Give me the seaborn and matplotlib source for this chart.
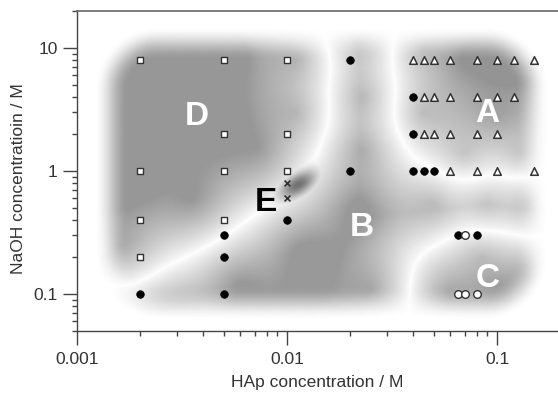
import numpy as np
import pandas as pd
import seaborn as sns
import matplotlib.pyplot as plt
from matplotlib.ticker import LogLocator, NullFormatter

# measured points (HAp / M, NaOH / M)
square_x = [0.002, 0.005, 0.01, 0.005, 0.01, 0.002, 0.005, 0.01, 0.002, 0.005, 0.002]
square_y = [8, 8, 8, 2, 2, 1, 1, 1, 0.4, 0.4, 0.2]
dot_x = [0.002, 0.005, 0.005, 0.005, 0.01, 0.02, 0.02, 0.04, 0.04, 0.04, 0.045, 0.05, 0.065, 0.08]
dot_y = [0.1, 0.3, 0.2, 0.1, 0.4, 8, 1, 4, 2, 1, 1, 1, 0.3, 0.3]
tri_x = [0.04, 0.045, 0.05, 0.06, 0.08, 0.1, 0.12, 0.15,
         0.045, 0.05, 0.06, 0.08, 0.1, 0.12,
         0.045, 0.05, 0.06, 0.08, 0.1,
         0.06, 0.08, 0.1, 0.15]
tri_y = [8, 8, 8, 8, 8, 8, 8, 8,
         4, 4, 4, 4, 4, 4,
         2, 2, 2, 2, 2,
         1, 1, 1, 1]
ring_x = [0.07, 0.065, 0.07, 0.08]
ring_y = [0.3, 0.1, 0.1, 0.1]
cross_x = [0.01, 0.01]
cross_y = [0.8, 0.6]

# region labels
region_names = ['A', 'B', 'C', 'D', 'E']
region_x = [0.09, 0.0226, 0.09, 0.0037, 0.0079]
region_y = [2.95, 0.35, 0.134, 2.8, 0.55]
region_color = ['white', 'white', 'white', 'white', 'black']

# rough anchor points of each shaded phase region
shade_A = [(0.045, 10), (0.07, 8), (0.11, 8), (0.045, 3), (0.1, 2.8), (0.13, 1.4), (0.07, 1.4)]
shade_B = [(0.023, 12), (0.023, 4), (0.023, 1.5), (0.022, 0.5), (0.012, 0.22),
           (0.006, 0.12), (0.0028, 0.065), (0.0014, 0.05), (0.025, 0.11),
           (0.05, 0.55), (0.09, 0.55), (0.14, 0.55)]
shade_C = [(0.06, 0.1), (0.1, 0.12), (0.14, 0.14), (0.085, 0.2)]
shade_D = [(0.002, 8), (0.005, 8), (0.011, 8), (0.002, 2.5), (0.005, 2.5),
           (0.011, 3), (0.0017, 0.8), (0.0016, 0.25), (0.0035, 0.6), (0.0072, 1.6)]
shade_depth = [0.42, 0.40, 0.45, 0.41]
# small dark E spot: centre, depth
spot_E = (0.0113, 0.78)
spot_depth = 0.55

sns.set_style('ticks')
plt.rcParams['font.family'] = ['Liberation Sans', 'DejaVu Sans']

fig = plt.figure(figsize=(5.58, 3.96), dpi=100)
ax = fig.add_axes([77 / 558, 1 - 331 / 396, 481 / 558, 320 / 396])

# grey background map
k = 0.583
gx = np.linspace(-3, np.log10(0.195), 520)
gy = np.linspace(np.log10(0.05), np.log10(20), 360)
U, V = np.meshgrid(gx, gy)
Vs = V * k
tau = 0.09
dists = []
for pts in [shade_A, shade_B, shade_C, shade_D]:
    pu = np.log10([p[0] for p in pts])
    pv = np.log10([p[1] for p in pts]) * k
    r = np.sqrt((U[..., None] - pu) ** 2 + (Vs[..., None] - pv) ** 2)
    dists.append(-tau * np.log(np.exp(-r / tau).sum(-1)))
dists = np.stack(dists)
order = np.sort(dists, axis=0)
margin = order[1] - order[0]
owner = np.argmin(dists, axis=0)
f = np.clip(margin / 0.42, 0, 1) ** 0.85

# rounded rectangle envelope
lo_u, hi_u = np.log10(0.00122), np.log10(0.175)
cu, hu = (lo_u + hi_u) / 2, (hi_u - lo_u) / 2
top, bot = np.log10(15) * k, np.log10(0.062) * k
cv, hv = (top + bot) / 2, (top - bot) / 2
rad = 0.3
qx = np.maximum(np.abs(U - cu) - hu + rad, 0)
qy = np.maximum(np.abs(Vs - cv) - hv + rad, 0)
sd = np.sqrt(qx ** 2 + qy ** 2) - rad
env = np.clip(-sd / 0.16, 0, 1)
env = env * env * (3 - 2 * env)

# elongated E spot, tilted along the D/B border
du = U - np.log10(spot_E[0])
dv = Vs - np.log10(spot_E[1]) * k
ang = np.deg2rad(32)
along = du * np.cos(ang) + dv * np.sin(ang)
across = -du * np.sin(ang) + dv * np.cos(ang)
spot = spot_depth * np.exp(-0.5 * ((along / 0.07) ** 2 + (across / 0.035) ** 2))

dark = np.maximum(np.array(shade_depth)[owner] * f * env, spot)
gray = 1 - dark
ax.pcolormesh(10 ** gx, 10 ** gy, gray, cmap='gray', vmin=0, vmax=1,
              shading='gouraud', rasterized=True, zorder=0)

sq = pd.DataFrame({'x': square_x, 'y': square_y})
dt = pd.DataFrame({'x': dot_x, 'y': dot_y})
tr = pd.DataFrame({'x': tri_x, 'y': tri_y})
rg = pd.DataFrame({'x': ring_x, 'y': ring_y})
cr = pd.DataFrame({'x': cross_x, 'y': cross_y})

sns.scatterplot(data=sq, x='x', y='y', ax=ax, marker='s', s=20, facecolor='white',
                edgecolor='#333333', linewidth=1, zorder=3)
sns.scatterplot(data=dt, x='x', y='y', ax=ax, marker='o', s=30, color='black',
                edgecolor='black', linewidth=0.5, zorder=3)
sns.scatterplot(data=tr, x='x', y='y', ax=ax, marker='^', s=30, facecolor='white',
                edgecolor='#333333', linewidth=1.1, zorder=3)
sns.scatterplot(data=rg, x='x', y='y', ax=ax, marker='o', s=30, facecolor='white',
                edgecolor='#333333', linewidth=1, zorder=3)
sns.scatterplot(data=cr, x='x', y='y', ax=ax, marker='x', s=18, color='#333333',
                linewidth=1.2, zorder=3)

for name, x, y, c in zip(region_names, region_x, region_y, region_color):
    ax.text(x, y, name, color=c, fontsize=24, fontweight='bold',
            ha='center', va='center', zorder=4)

ax.set_xscale('log')
ax.set_yscale('log')
ax.set_xlim(0.001, 0.195)
ax.set_ylim(0.05, 20)
ax.set_xticks([0.001, 0.01, 0.1])
ax.set_xticklabels(['0.001', '0.01', '0.1'])
ax.set_yticks([0.1, 1, 10])
ax.set_yticklabels(['0.1', '1', '10'])
ax.xaxis.set_minor_locator(LogLocator(base=10, subs=np.arange(2, 10)))
ax.yaxis.set_minor_locator(LogLocator(base=10, subs=np.arange(2, 10)))
ax.xaxis.set_minor_formatter(NullFormatter())
ax.yaxis.set_minor_formatter(NullFormatter())
ax.tick_params(which='major', length=10, width=1, color='#444444',
               labelsize=12.5, labelcolor='#333333')
ax.tick_params(axis='x', which='major', pad=5)
ax.tick_params(axis='y', which='major', pad=4)
ax.tick_params(which='minor', length=3.5, width=1, color='#444444')
ax.set_xlabel('HAp concentration / M', fontsize=12.5, color='#333333', labelpad=6)
ax.set_ylabel('NaOH concentratioin / M', fontsize=12.5, color='#333333')
ax.yaxis.set_label_coords(-0.105, 0.475)

for side in ['left', 'bottom']:
    ax.spines[side].set_color('#444444')
    ax.spines[side].set_linewidth(1)
ax.spines['top'].set_color('#666666')
ax.spines['top'].set_linewidth(1.2)
ax.spines['right'].set_visible(False)

fig.savefig('out.png', dpi=100)
